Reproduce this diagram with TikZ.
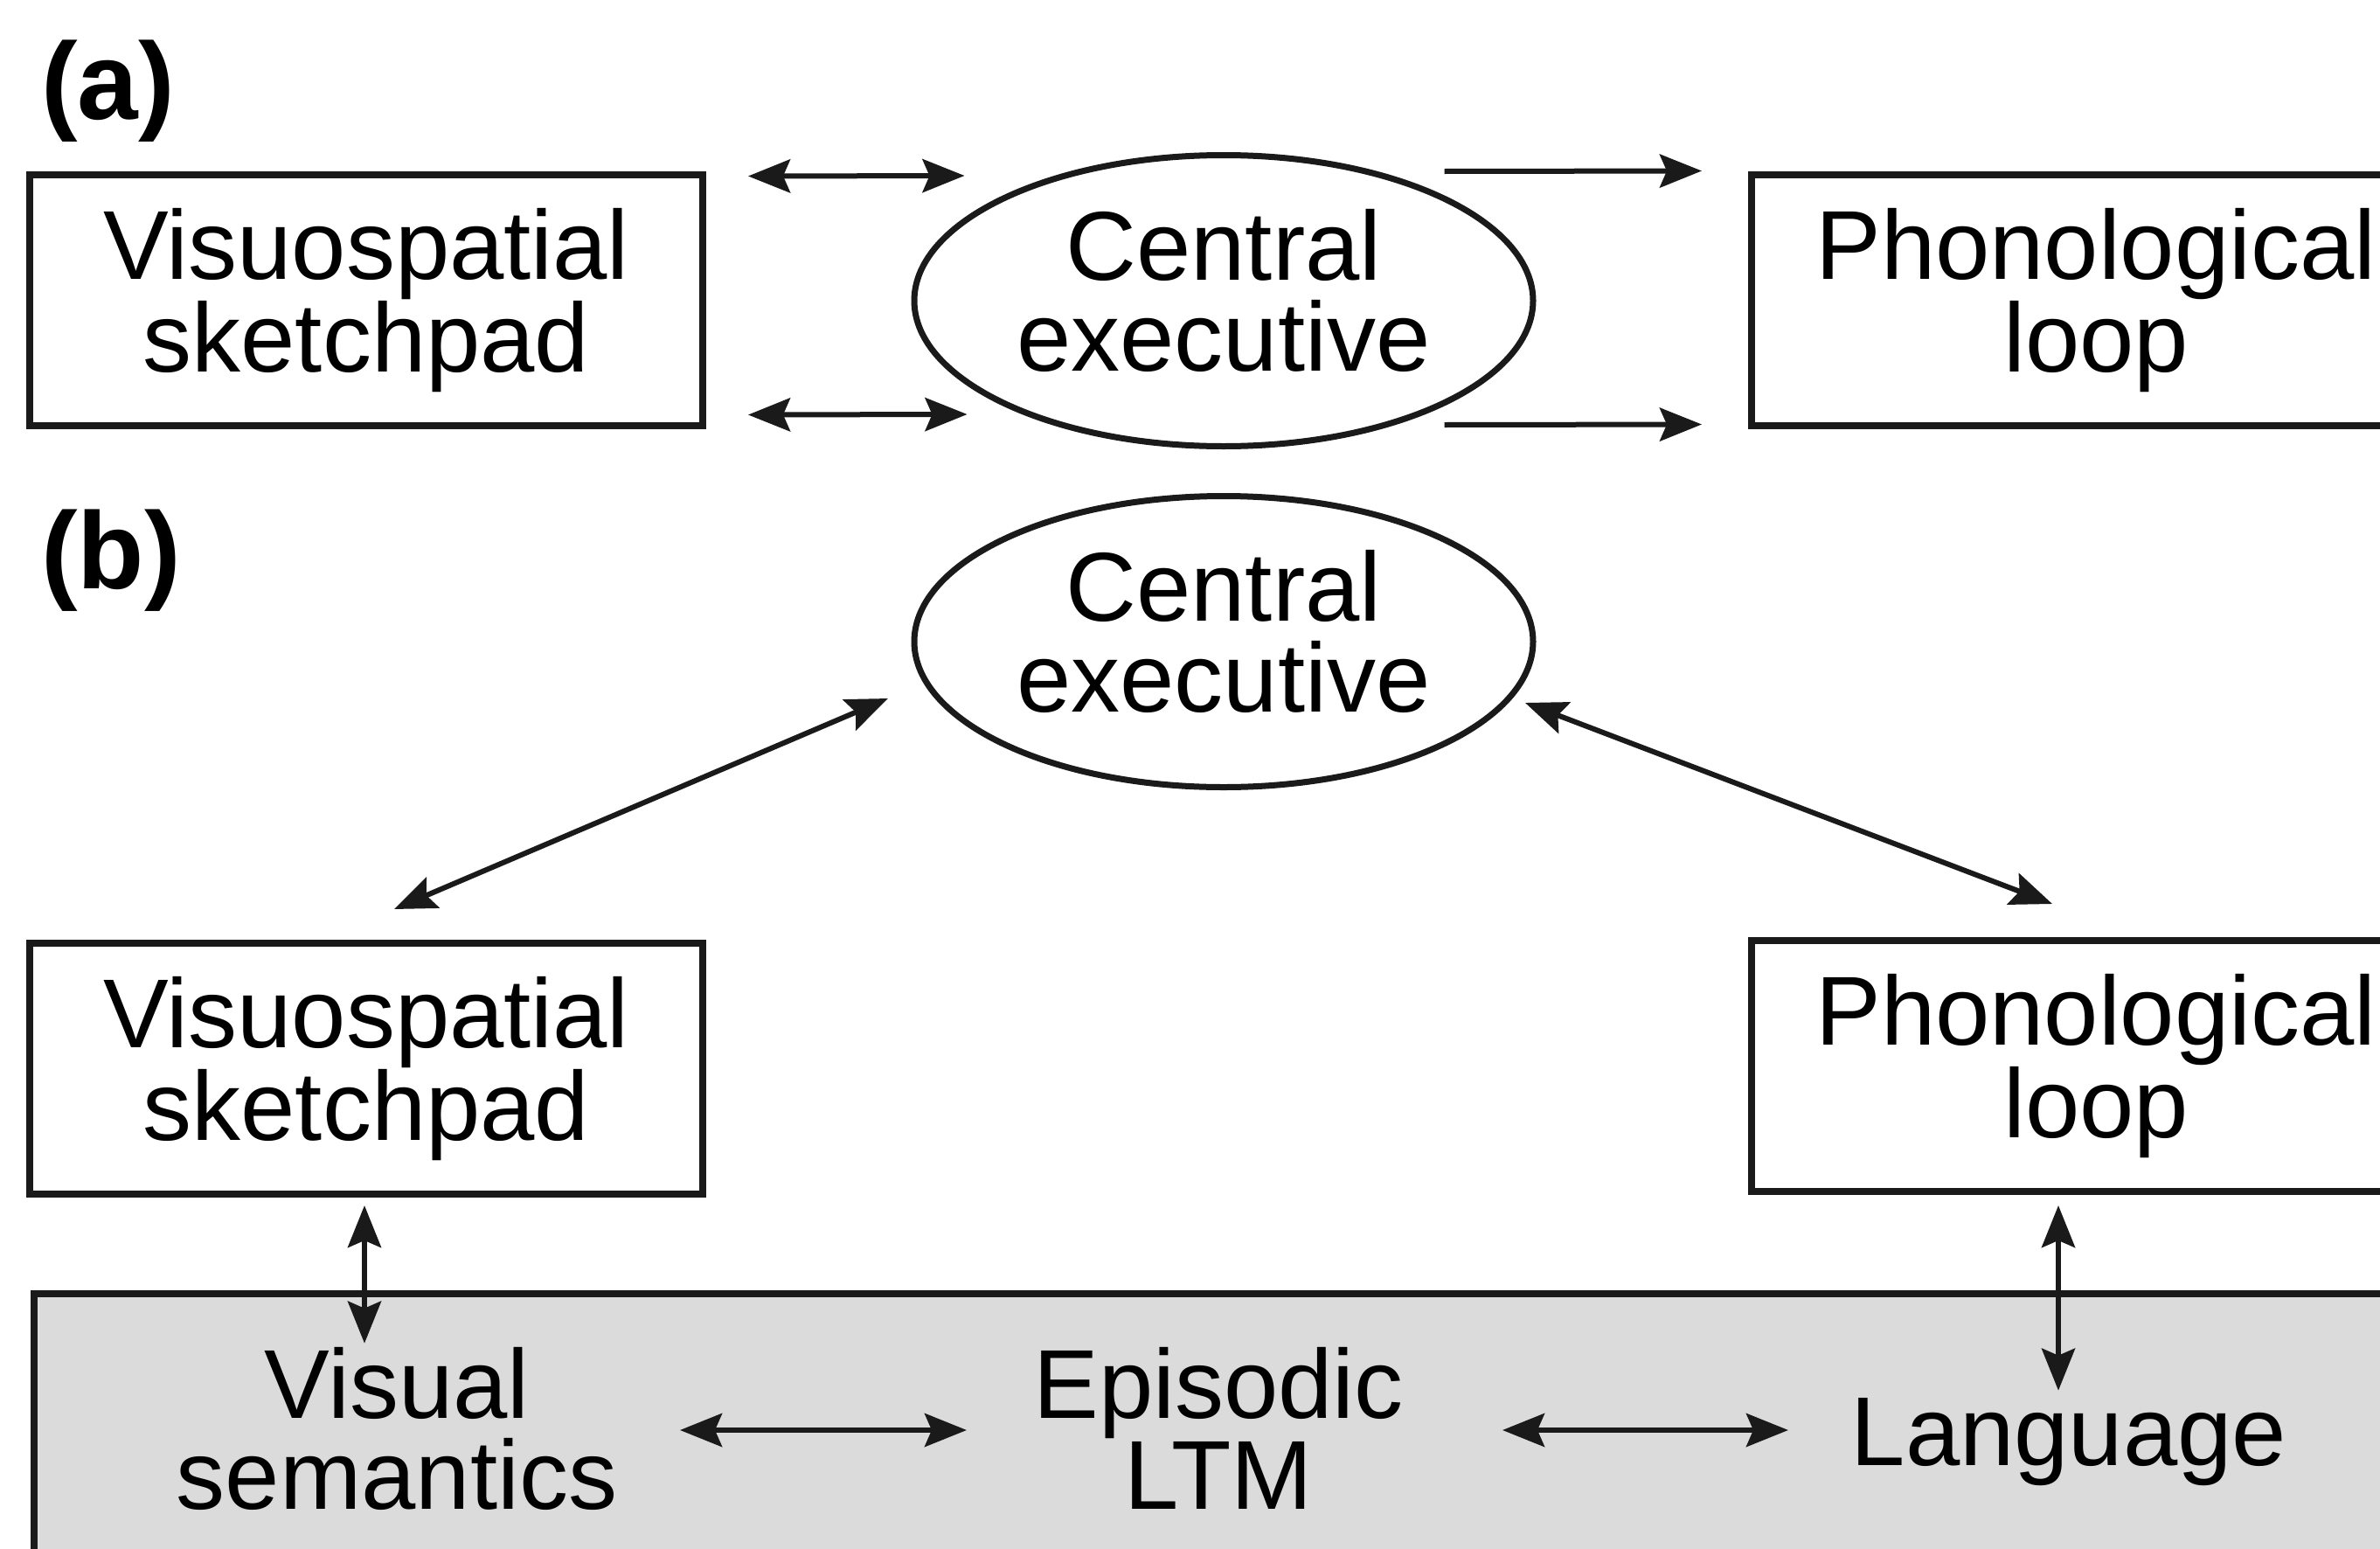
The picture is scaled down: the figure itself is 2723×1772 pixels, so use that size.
\documentclass[tikz,border=0pt]{standalone}
\usepackage{fontspec}
\setmainfont{Liberation Sans}
\usetikzlibrary{shapes.geometric,arrows.meta,calc}
\definecolor{ink}{HTML}{1A1A1A}
\definecolor{ltmgray}{HTML}{DBDBDB}
\begin{document}
\begin{tikzpicture}[x=1pt,y=-1pt,
  txtfont/.style={font=\fontsize{112}{104}\selectfont},
  box/.style={draw=ink, line width=8pt, minimum width=770pt, minimum height=287pt, inner sep=0pt, align=center, txtfont},
  pbox/.style={box, minimum width=788pt},
  oval/.style={ellipse, draw=ink, line width=7pt, minimum width=708pt, minimum height=333pt, inner sep=0pt, align=center, txtfont},
  txt/.style={inner sep=0pt, align=center, txtfont},
  lbl/.style={inner sep=0pt, anchor=west, font=\fontsize{125}{125}\selectfont\bfseries},
  con/.style={draw=ink, line width=6pt},
  tip/.tip={Stealth[length=48pt,width=38pt,inset=8pt]},
  both/.style={con, tip-tip},
  one/.style={con, -tip}]
\clip (0,0) rectangle (2723,1772);
\fill[white] (0,0) rectangle (2723,1772);

% (a)
\node[lbl] (la) at (47,104) {(a)};
\node[box]  (vs1) at (419,343.5) {Visuospatial\\sketchpad};
\node[oval] (ce1) at (1400,344) {Central\\executive\vphantom{p}};
\node[pbox] (ph1) at (2398,343.5) {Phonological\\loop};

\draw[both] ($(vs1.east)+(48,-142)$) -- ($(ce1.west)+(61,-143)$);
\draw[both] ($(vs1.east)+(48,131)$) -- ($(ce1.west)+(64,130)$);
\draw[one] ($(ce1.east)+(-105,-148)$) -- ($(ph1.west)+(-53,-148)$);
\draw[one] ($(ce1.east)+(-105,142)$) -- ($(ph1.west)+(-53,142)$);

% (b)
\node[lbl] (lb) at (47,641) {(b)};
\node[oval] (ce2) at (1400,734) {Central\\executive\vphantom{p}};
\node[box]  (vs2) at (419,1222.5) {Visuospatial\\sketchpad};
\node[pbox] (ph2) at (2398,1219.5) {Phonological\\loop};

\node[draw=ink, fill=ltmgray, line width=8pt, anchor=north west, minimum width=2800pt, minimum height=420pt, inner sep=0pt] (ltm) at (35,1476) {};

\node[txt] (vis)  at (454,1634)  {Visual\\semantics};
\node[txt] (epi)  at (1394,1634) {Episodic\\LTM};
\node[txt] (lang) at (2367,1650) {Language};

\draw[both] ($(ce2.center)+(-384,65)$) -- ($(vs2.north)+(32,-35)$);
\draw[both] ($(ce2.center)+(345,70)$) -- ($(ph2.north)+(-50,-38)$);
\draw[both] ($(vs2.south)+(-2,9)$) -- ($(vis.north)+(-37,-4)$);
\draw[both] ($(ph2.south)+(-43,12)$) -- ($(lang.north)+(-12,-9)$);
\draw[both] ($(vis.center)+(324,2)$) -- ($(epi.center)+(-288,2)$);
\draw[both] ($(epi.center)+(325,2)$) -- ($(lang.center)+(-321,-14)$);
\end{tikzpicture}
\end{document}
